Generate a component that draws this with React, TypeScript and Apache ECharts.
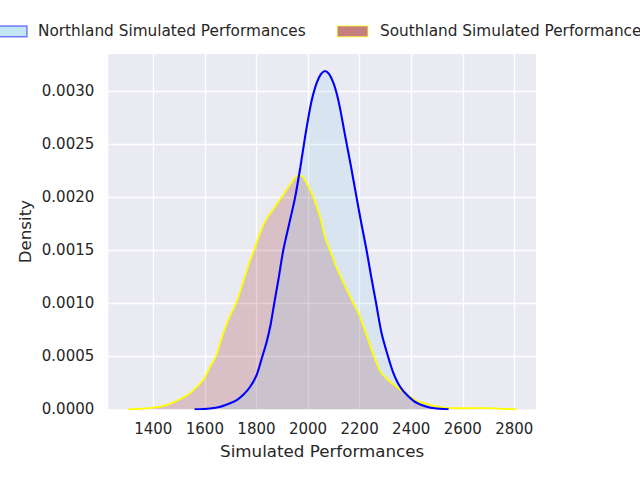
import React, { useEffect, useRef } from "react";
import * as echarts from "echarts";

// ---- data ----
const northlandX = [1560, 1620, 1660, 1700, 1725, 1750, 1775, 1800, 1823, 1840, 1855, 1869, 1887, 1904, 1927, 1950, 1970, 1988, 2008, 2020, 2034, 2050, 2066, 2082, 2098, 2111, 2124, 2143, 2165, 2188, 2207, 2227, 2245, 2264, 2285, 2310, 2331, 2350, 2370, 2409, 2440, 2460, 2490, 2512, 2545];
const northlandY = [0, 0.000008, 0.000025, 0.00006, 0.00009, 0.00014, 0.00021, 0.00032, 0.0005, 0.00064, 0.0008, 0.001, 0.00125, 0.0015, 0.00175, 0.002, 0.00228, 0.00256, 0.00284, 0.00297, 0.00308, 0.00316, 0.00319, 0.00316, 0.00308, 0.00298, 0.00284, 0.00259, 0.00231, 0.002, 0.00175, 0.0015, 0.00125, 0.001, 0.00072, 0.0005, 0.00034, 0.00024, 0.00017, 0.00008, 0.00004, 0.000025, 0.00001, 0.000005, 0];

const southlandX = [1301, 1350, 1400, 1450, 1490, 1530, 1568, 1600, 1620, 1643, 1665, 1690, 1721, 1750, 1775, 1791, 1815, 1840, 1870, 1898, 1917, 1940, 1960, 1975, 1995, 2020, 2046, 2065, 2085, 2110, 2140, 2176, 2200, 2230, 2256, 2280, 2305, 2344, 2383, 2422, 2460, 2500, 2551, 2615, 2693, 2750, 2809];
const southlandY = [0, 0.000005, 0.000015, 0.00004, 0.00008, 0.00013, 0.00021, 0.0003, 0.0004, 0.0005, 0.00067, 0.00084, 0.001, 0.00121, 0.0014, 0.0015, 0.00167, 0.0018, 0.0019, 0.002, 0.00207, 0.00215, 0.0022, 0.0022, 0.00213, 0.002, 0.00182, 0.00163, 0.0015, 0.00134, 0.00118, 0.001, 0.00088, 0.00068, 0.0005, 0.00036, 0.00029, 0.00021, 0.00014, 0.00008, 0.00005, 0.000025, 0.000012, 0.00001, 0.000012, 0.000005, 0];

const seriesNames = ["Northland Simulated Performances", "Southland Simulated Performances"];
const xTickStep = 200;
const yTickStep = 0.0005;
const xRange = [1225.5, 2884];
const yRange = [0, 0.00335];

const FONT = "DejaVu Sans";
const TXT = "#262626";

function zip(xs: number[], ys: number[]) {
  return xs.map((x, i) => [x, ys[i]]);
}

export default function App() {
  const ref = useRef<HTMLDivElement>(null);
  useEffect(() => {
    if (!ref.current) return;
    const chart = echarts.init(ref.current, null, { renderer: "svg" });
    const isMult = (v: number, s: number) => Math.abs(v / s - Math.round(v / s)) < 1e-6;
    chart.setOption({
      animation: false,
      textStyle: { fontFamily: FONT },
      grid: {
        left: 108.3,
        top: 54,
        width: 427.7,
        height: 355.3,
        show: true,
        backgroundColor: "#eaeaf2",
        borderWidth: 0,
      },
      xAxis: {
        type: "value",
        min: xRange[0],
        max: xRange[1],
        splitNumber: 8,
        axisLine: { show: false },
        axisTick: { show: false },
        axisLabel: {
          color: TXT,
          fontSize: 15,
          fontFamily: FONT,
          margin: 12,
          showMinLabel: false,
          showMaxLabel: false,
          formatter: (v: number) => (isMult(v, xTickStep) ? String(Math.round(v)) : ""),
        },
        splitLine: { show: true, showMinLine: false, showMaxLine: false, lineStyle: { color: "#ffffff", width: 1.3 } },
        name: "Simulated Performances",
        nameLocation: "middle",
        nameGap: 33,
        nameMoveOverlap: false,
        nameTextStyle: { color: TXT, fontSize: 16.7, fontFamily: FONT },
      },
      yAxis: {
        type: "value",
        min: yRange[0],
        max: yRange[1],
        interval: yTickStep,
        axisLine: { show: false },
        axisTick: { show: false },
        axisLabel: {
          color: TXT,
          fontSize: 15,
          fontFamily: FONT,
          margin: 14,
          showMaxLabel: false,
          formatter: (v: number) => (isMult(v, yTickStep) ? v.toFixed(4) : ""),
        },
        splitLine: { show: true, showMinLine: false, showMaxLine: false, lineStyle: { color: "#ffffff", width: 1.3 } },
        name: "Density",
        nameLocation: "middle",
        nameGap: 75,
        nameMoveOverlap: false,
        nameTextStyle: { color: TXT, fontSize: 16.7, fontFamily: FONT },
      },
      series: [
        {
          name: seriesNames[1],
          type: "line",
          data: zip(southlandX, southlandY),
          showSymbol: false,
          smooth: 0.3,
          lineStyle: { color: "#ffff00", width: 1.8 },
          areaStyle: { color: "rgba(139,0,0,0.25)" },
        },
        {
          name: seriesNames[0],
          type: "line",
          data: zip(northlandX, northlandY),
          showSymbol: false,
          smooth: 0.3,
          lineStyle: { color: "#0000ff", width: 2.1 },
          areaStyle: { color: "rgba(135,206,235,0.25)" },
        },
      ],
      graphic: [
        {
          type: "rect",
          shape: { x: -3.6, y: 26, width: 30.6, height: 10.7 },
          style: { fill: "rgba(135,206,235,0.5)", stroke: "rgba(0,0,255,0.5)", lineWidth: 1.4 },
        },
        {
          type: "text",
          x: 38,
          y: 31,
          style: { text: seriesNames[0], fill: TXT, font: `15.3px "${FONT}"`, verticalAlign: "middle", align: "left" },
        },
        {
          type: "rect",
          shape: { x: 337.3, y: 26, width: 30.6, height: 10.7 },
          style: { fill: "rgba(139,0,0,0.5)", stroke: "rgba(255,255,0,0.5)", lineWidth: 1.4 },
        },
        {
          type: "text",
          x: 380,
          y: 31,
          style: { text: seriesNames[1], fill: TXT, font: `15.3px "${FONT}"`, verticalAlign: "middle", align: "left" },
        },
      ],
    });
    return () => chart.dispose();
  }, []);
  return (
    <div
      ref={ref}
      style={{ position: "fixed", left: 0, top: 0, width: 640, height: 480, background: "#ffffff" }}
    />
  );
}
